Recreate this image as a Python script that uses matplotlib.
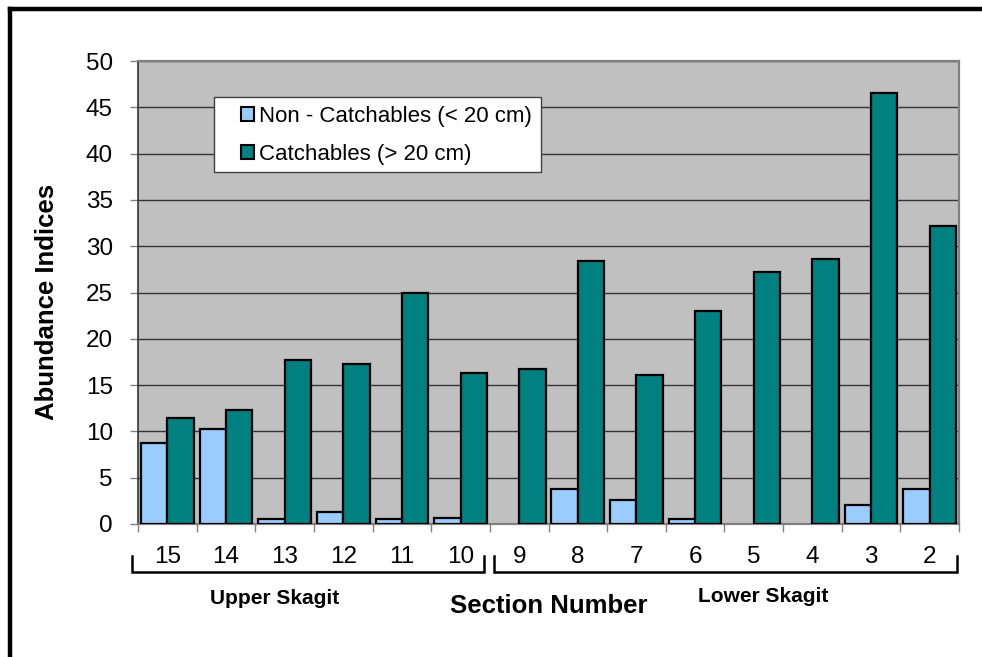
import matplotlib
matplotlib.use("Agg")
import matplotlib.pyplot as plt
from matplotlib.patches import Patch, Rectangle
from matplotlib.lines import Line2D
import numpy as np

plt.rcParams['font.family'] = ['Liberation Sans', 'DejaVu Sans']

sections = ["15", "14", "13", "12", "11", "10", "9", "8", "7", "6", "5", "4", "3", "2"]
non_catchables = [8.7, 10.3, 0.5, 1.3, 0.5, 0.6, 0.0, 3.8, 2.6, 0.5, 0.0, 0.0, 2.0, 3.8]
catchables = [11.4, 12.3, 17.7, 17.3, 24.9, 16.3, 16.7, 28.4, 16.1, 23.0, 27.2, 28.6, 46.5, 32.2]
series_labels = ["Non - Catchables (< 20 cm)", "Catchables (> 20 cm)"]
group_labels = ["Upper Skagit", "Lower Skagit"]
y_ticks = [0, 5, 10, 15, 20, 25, 30, 35, 40, 45, 50]

W, H = 982, 657
fig = plt.figure(figsize=(W / 100, H / 100), dpi=100)
fig.patch.set_facecolor("white")

def fx(px):
    return px / W

def fy(py):
    return 1 - py / H

# outer border
fig.add_artist(Line2D([fx(10), fx(10)], [fy(9), fy(700)], color="black", lw=3.2, transform=fig.transFigure))
fig.add_artist(Line2D([fx(10), fx(1000)], [fy(9), fy(9)], color="black", lw=3.2, transform=fig.transFigure))

ax = fig.add_axes([fx(138), fy(524), fx(959) - fx(138), fy(61) - fy(524)])
ax.set_facecolor("#C0C0C0")

x = np.arange(len(sections))
bw = 0.45
b1 = ax.bar(x - bw / 2, non_catchables, width=bw, color="#99CCFF", edgecolor="black", linewidth=1.6, zorder=3)
b2 = ax.bar(x + bw / 2, catchables, width=bw, color="#008080", edgecolor="black", linewidth=1.6, zorder=3)
for p in list(b1) + list(b2):
    if p.get_height() == 0:
        p.set_edgecolor("none")

ax.set_xlim(-0.5, len(sections) - 0.5)
ax.set_ylim(0, 50)
ax.set_yticks(y_ticks)
ax.set_yticklabels([str(v) for v in y_ticks], fontsize=17.5)
ax.yaxis.grid(True, color="#333333", lw=1.0, zorder=1)
ax.set_axisbelow(True)

ax.set_xticks(x)
ax.set_xticklabels(sections, fontsize=17.5)
ax.set_xticks(np.arange(-0.5, len(sections), 1.0), minor=True)
ax.tick_params(axis="x", which="major", length=0, pad=16)
ax.tick_params(axis="x", which="minor", length=6, color="#808080", width=1)
ax.tick_params(axis="y", length=6, color="#808080", width=1, pad=12)

for s in ["top", "right", "bottom"]:
    ax.spines[s].set_color("#808080")
    ax.spines[s].set_linewidth(1.6)
ax.spines["left"].set_color("#333333")
ax.spines["left"].set_linewidth(1.2)

# legend box
fig.add_artist(Rectangle((fx(214), fy(172)), fx(541) - fx(214), fy(97) - fy(172), transform=fig.transFigure,
                         facecolor="white", edgecolor="#404040", lw=1.0, zorder=5))
handles = [Patch(facecolor="#99CCFF", edgecolor="black", lw=1.5),
           Patch(facecolor="#008080", edgecolor="black", lw=1.5)]
leg = fig.legend(handles, series_labels, loc="upper left", bbox_to_anchor=(fx(241), fy(106)),
                 frameon=False, fontsize=16, handlelength=0.6, handleheight=0.6,
                 handletextpad=0.2, labelspacing=0.75, borderpad=0.0, borderaxespad=0.0)
leg.set_zorder(6)

# axis labels
fig.text(fx(47), fy(302), "Abundance Indices", rotation=90, ha="center", va="center",
         fontsize=18.5, fontweight="bold")
fig.text(fx(549), fy(606), "Section Number", ha="center", va="center", fontsize=18.5, fontweight="bold")
fig.text(fx(275), fy(599), group_labels[0], ha="center", va="center", fontsize=15, fontweight="bold")
fig.text(fx(763), fy(597), group_labels[1], ha="center", va="center", fontsize=15, fontweight="bold")

# brackets
for x0, x1 in [(132, 484), (494, 957)]:
    fig.add_artist(Line2D([fx(x0), fx(x0), fx(x1), fx(x1)], [fy(556), fy(572), fy(572), fy(556)],
                          color="black", lw=1.8, transform=fig.transFigure, solid_joinstyle="miter"))

fig.savefig("out.png", dpi=100)
